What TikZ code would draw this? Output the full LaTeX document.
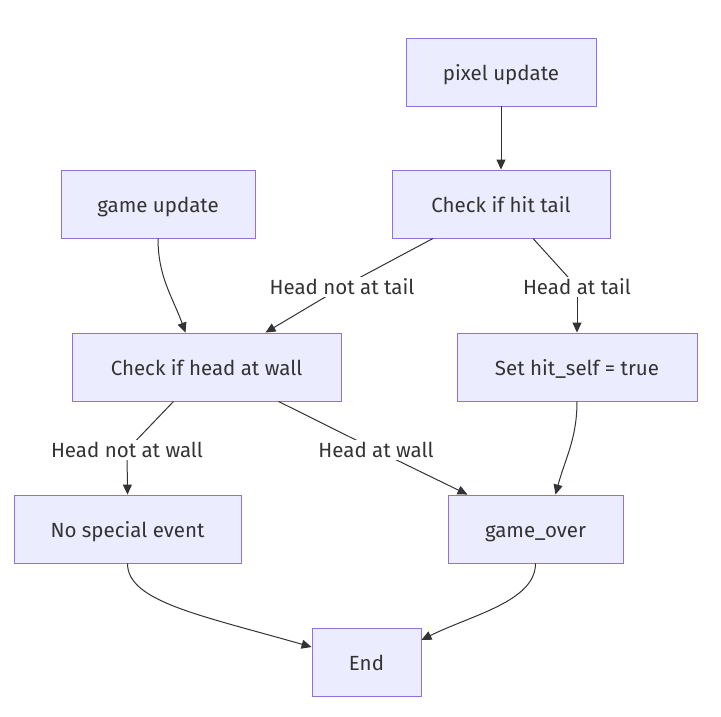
\documentclass[tikz,border=0pt]{standalone}
\usepackage{fontspec}
\setmainfont{Fira Sans}
\usetikzlibrary{arrows.meta}
\definecolor{nodefill}{HTML}{ECECFF}
\definecolor{nodeborder}{HTML}{9370DB}
\definecolor{ink}{HTML}{333333}
\begin{document}
\begin{tikzpicture}[x=1pt,y=-1pt,
  box/.style={draw=nodeborder,fill=nodefill,line width=0.9pt,minimum height=68pt,inner sep=0pt,text height=17pt,text depth=0pt,text=ink,font=\fontsize{20.5}{24}\selectfont},
  lbl/.style={fill=white,text=ink,inner sep=2pt,font=\fontsize{20.5}{24}\selectfont},
  edge/.style={draw=ink,line width=1pt,-{Triangle[length=10pt,width=9pt]}},
  plain/.style={draw=ink,line width=1pt}]
\useasboundingbox[fill=white] (0,0) rectangle (721,716);
\node[box,minimum width=190pt] (pix) at (501,72) {pixel update};
\node[box,minimum width=218pt] (hit) at (501,204) {Check if hit tail};
\node[box,minimum width=194pt] (game) at (158,204) {game update};
\node[box,minimum width=269pt] (wall) at (206.5,367) {Check if head at wall};
\node[box,minimum width=240pt] (self) at (577,367) {Set hit\_self = true};
\node[box,minimum width=227pt] (nse) at (127.5,529) {No special event};
\node[box,minimum width=175pt] (over) at (535.5,529) {game\_over};
\node[box,minimum width=109pt] (end) at (366.5,662) {End};
\coordinate (l1) at (342,287);
\coordinate (l2) at (577,287);
\coordinate (l3) at (127,450);
\coordinate (l4) at (376,450);
\draw[edge] (pix.south) -- (hit.north);
\draw[edge] (game.south) to[out=-90,in=110] ([xshift=-21pt]wall.north);
\draw[plain] ([xshift=-68pt]hit.south) -- (l1);
\draw[edge] (l1) -- ([xshift=59pt]wall.north);
\node[lbl] (t1) at (l1) {Head not at tail};
\draw[plain] ([xshift=32pt]hit.south) -- (l2);
\draw[edge] (l2) -- (self.north);
\node[lbl] (t2) at (l2) {Head at tail};
\draw[plain] ([xshift=-33pt]wall.south) -- (l3);
\draw[edge] (l3) -- (nse.north);
\node[lbl] (t3) at (l3) {Head not at wall};
\draw[plain] ([xshift=72pt]wall.south) -- (l4);
\draw[edge] (l4) -- ([xshift=-68pt]over.north);
\node[lbl] (t4) at (l4) {Head at wall};
\draw[edge] (self.south) to[out=-90,in=75] ([xshift=20pt]over.north);
\draw[edge] (nse.south) .. controls +(0,38) and +(-112,-32) .. ([yshift=15pt]end.west);
\draw[edge] (over.south) .. controls +(0,38) and +(50,-25) .. ([yshift=22pt]end.east);
\end{tikzpicture}
\end{document}
